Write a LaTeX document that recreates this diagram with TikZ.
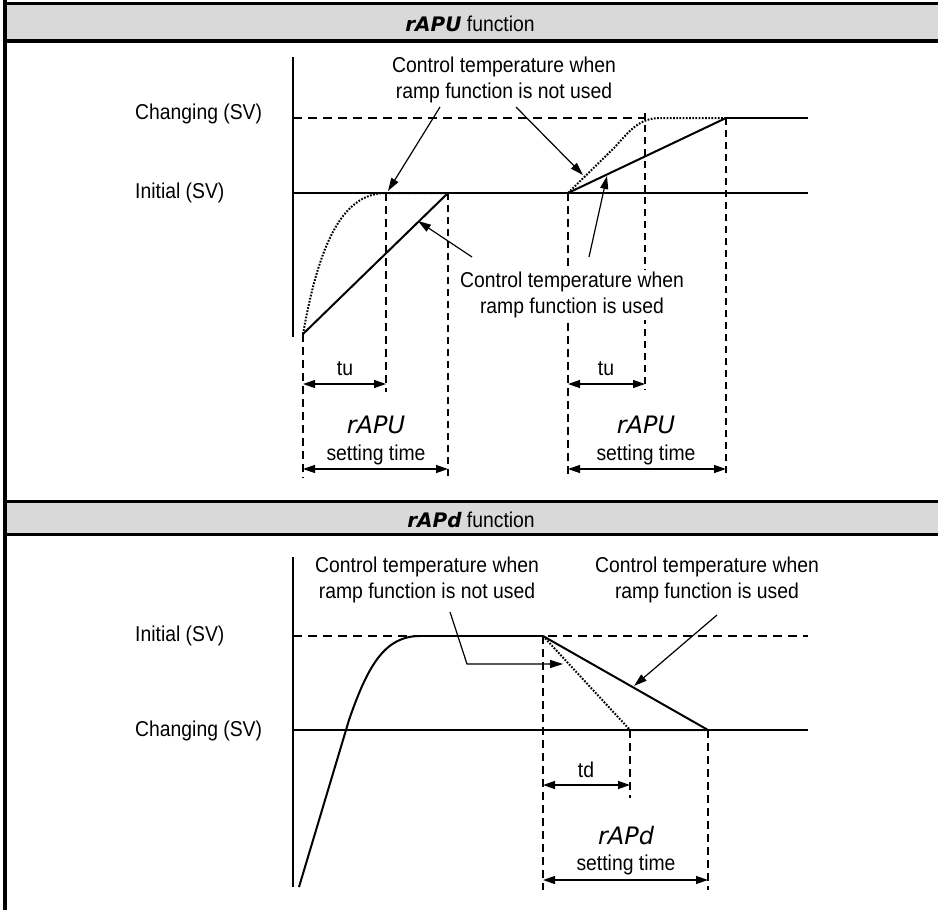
\documentclass[tikz,border=0pt]{standalone}
\usepackage{fontspec}
\setmainfont{Liberation Sans}[FakeStretch=0.9]
\newfontfamily\segfont{DejaVu Sans}
\usetikzlibrary{arrows.meta}
\definecolor{hdr}{RGB}{217,217,217}
\begin{document}
\begin{tikzpicture}[x=1pt,y=-1pt,
  txt/.style={font=\fontsize{21.5}{26}\selectfont, inner sep=0pt},
  lbl/.style={txt, align=center, inner sep=2pt},
  axisline/.style={line width=1.3pt},
  rampline/.style={line width=2pt, line join=round},
  plateau/.style={line width=2.6pt},
  dotline/.style={line width=2pt, dash pattern=on 1.7pt off 1.5pt},
  thickdash/.style={line width=2pt, dash pattern=on 8pt off 5pt},
  thindash/.style={line width=1.2pt, dash pattern=on 7pt off 5pt},
  svdash/.style={line width=1.8pt, dash pattern=on 9pt off 6pt},
  ptr/.style={line width=1.2pt, -{Triangle[length=13pt,width=8pt]}},
  dim/.style={line width=1.3pt, {Triangle[length=12pt,width=8pt]}-{Triangle[length=12pt,width=8pt]}},
  seg/.style={font=\segfont\itshape\fontsize{24}{26}\selectfont, inner sep=0pt},
  border/.style={line width=3.4pt}
]
\useasboundingbox (0,0) rectangle (938,910);

% ---------- frame and headers ----------
\fill[hdr] (5,4) rectangle (938,40);
\fill[hdr] (5,502) rectangle (938,534);
\draw[border] (3,3.5) -- (938,3.5);
\draw[border] (3,41) -- (938,41);
\draw[border] (3,501.7) -- (938,501.7);
\draw[border] (3,534.7) -- (938,534.7);
\draw[border] (5,0) -- (5,910);
\node[txt, anchor=base] (h1) at (470,31) {{\segfont\bfseries\itshape\fontsize{20}{24}\selectfont rAPU} function};
\node[txt, anchor=base] (h2) at (471,527) {{\segfont\bfseries\itshape\fontsize{20}{24}\selectfont rAPd} function};

% ---------- top panel ----------
\coordinate (A0) at (293,57);  \coordinate (A1) at (293,337);
\coordinate (C0) at (293,118); \coordinate (C1) at (808,118);
\coordinate (I0) at (293,193); \coordinate (I1) at (808,193);
\coordinate (S0) at (303,334);
\coordinate (P1) at (386,193);
\coordinate (P2) at (448,193);
\coordinate (Q0) at (568,193);
\coordinate (Q1) at (645,118);
\coordinate (Q2) at (726,118);

\draw[axisline] (A0) -- (A1);
\draw[axisline] (I0) -- (I1);
\draw[svdash] (C0) -- (Q1);
\draw[rampline] (Q2) -- (C1);

% vertical dashed guides
\draw[thickdash] (S0) -- (303,478);
\draw[thickdash] (P1) -- (386,392);
\draw[thindash] (P2) -- (448,478);
\draw[thickdash] (Q0) -- (568,478);
\draw[thindash] (645,113) -- (645,390);
\draw[thindash] (Q2) -- (726,478);

% curves
\draw[dotline] (S0) .. controls (318,250) and (340,193) .. (P1) -- (P2);
\draw[rampline] (S0) -- (P2);
\draw[plateau] (P2) -- (Q0);
\draw[dotline] (Q0) -- (615,147) .. controls (630,130) and (640,118) .. (660,118) -- (Q2);
\draw[rampline] (Q0) -- (Q2);

% axis labels
\node[txt, anchor=base west] (chg1) at (135,119) {Changing (SV)};
\node[txt, anchor=base west] (ini1) at (135,198) {Initial (SV)};

% annotations
\node[lbl] (nu1) at (504,80) {Control temperature when\\ramp function is not used};
\node[lbl, fill=white] (us1) at (572,295) {Control temperature when\\ramp function is used};
\coordinate (nu1a) at (440,107); \coordinate (nu1b) at (516,107);
\coordinate (us1a) at (472,257); \coordinate (us1b) at (589,257);
\draw[ptr] (nu1a) -- (388,191);
\draw[ptr] (nu1b) -- (583,175);
\draw[ptr] (us1a) -- (418,221);
\draw[ptr] (us1b) -- (607,176);

% dimensions
\coordinate (tuL0) at (303,384); \coordinate (tuL1) at (386,384);
\coordinate (stL0) at (303,469); \coordinate (stL1) at (448,469);
\coordinate (tuR0) at (568,384); \coordinate (tuR1) at (645,384);
\coordinate (stR0) at (568,469); \coordinate (stR1) at (726,469);
\draw[dim] (tuL0) -- (tuL1);
\draw[dim] (stL0) -- (stL1);
\draw[dim] (tuR0) -- (tuR1);
\draw[dim] (stR0) -- (stR1);
\node[txt, anchor=base] (tu1) at (345,375) {tu};
\node[txt, anchor=base] (tu2) at (606,375) {tu};
\node[seg, anchor=base] (ra1) at (376,433) {rAPU};
\node[seg, anchor=base] (ra2) at (646,433) {rAPU};
\node[txt, anchor=base] (st1) at (376,460) {setting time};
\node[txt, anchor=base] (st2) at (646,460) {setting time};

% ---------- bottom panel ----------
\coordinate (B0) at (293,557); \coordinate (B1) at (293,887);
\coordinate (J0) at (293,636); \coordinate (J1) at (808,636);
\coordinate (K0) at (293,730); \coordinate (K1) at (808,730);
\coordinate (D0) at (543,636);
\coordinate (D1) at (630,730);
\coordinate (D2) at (708,730);

\draw[axisline] (B0) -- (B1);
\draw[axisline] (K0) -- (K1);
\draw[svdash] (J0) -- (J1);

\draw[thickdash] (D0) -- (543,890);
\draw[thickdash] (D1) -- (630,798);
\draw[thickdash] (D2) -- (708,890);

\draw[rampline] (299,887) -- (349,720) .. controls (368,665) and (385,636) .. (420,636);
\draw[plateau] (420,636) -- (D0);
\draw[dotline] (D0) -- (D1) -- (D2);
\draw[rampline] (D0) -- (D2);
\draw[plateau] (D2) -- (K1);

\node[txt, anchor=base west] (ini2) at (135,641) {Initial (SV)};
\node[txt, anchor=base west] (chg2) at (135,736) {Changing (SV)};

\node[lbl] (nu2) at (427,580) {Control temperature when\\ramp function is not used};
\node[lbl] (us2) at (707,580) {Control temperature when\\ramp function is used};
\coordinate (nu2a) at (450,612); \coordinate (nu2b) at (467,664);
\coordinate (us2a) at (717,615);
\draw[ptr] (nu2a) -- (nu2b) -- (563,664);
\draw[ptr] (us2a) -- (634,686);

\coordinate (td0) at (543,785); \coordinate (td1) at (630,785);
\coordinate (sd0) at (543,880); \coordinate (sd1) at (708,880);
\draw[dim] (td0) -- (td1);
\draw[dim] (sd0) -- (sd1);
\node[txt, anchor=base] (td) at (586,777) {td};
\node[seg, anchor=base] (rd) at (626,844) {rAPd};
\node[txt, anchor=base] (sd) at (626,870) {setting time};
\end{tikzpicture}
\end{document}
